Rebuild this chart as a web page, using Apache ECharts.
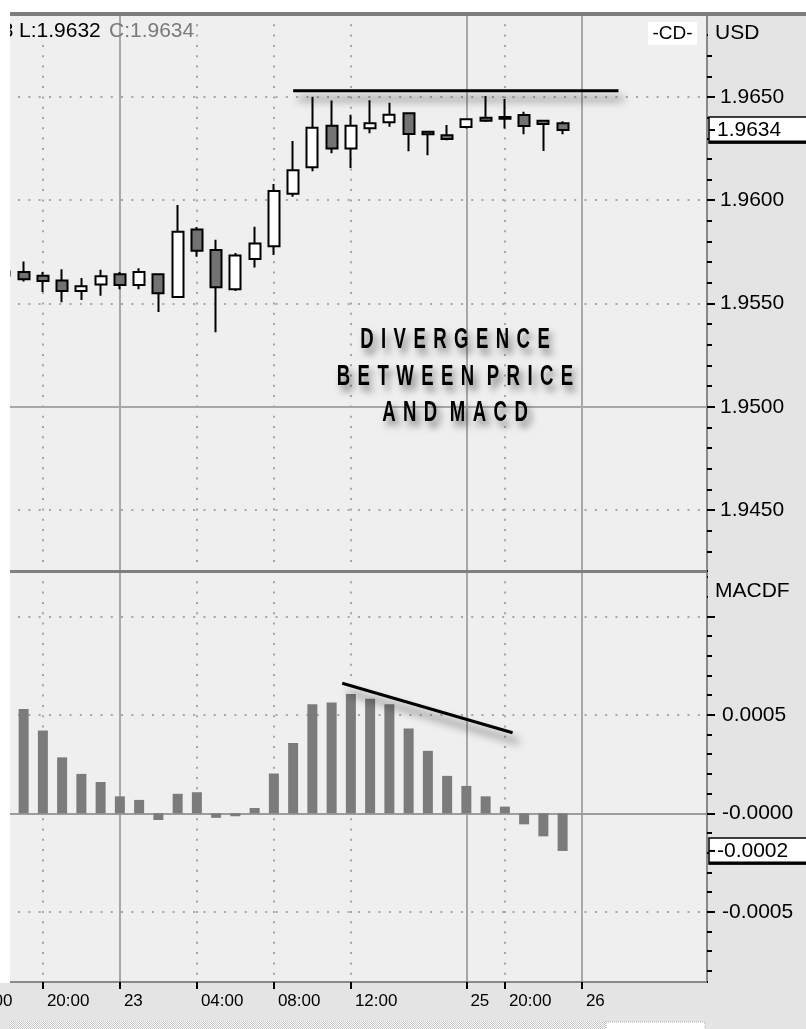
<!DOCTYPE html>
<html>
<head>
<meta charset="utf-8">
<script src="https://cdn.jsdelivr.net/npm/echarts@6/dist/echarts.min.js"></script>
<style>
  html, body { margin: 0; padding: 0; background: #ffffff; }
  #chart { width: 806px; height: 1029px; }
</style>
</head>
<body>
<div id="chart"></div>
<script>
// Hourly slots, 22nd 16:00 .. 26th 06:00 (no trading between 23rd 17:00 and 25th 18:00)
const times = [
  '22 16:00', '22 17:00', '22 18:00', '22 19:00', '22 20:00', '22 21:00', '22 22:00', '22 23:00',
  '23 00:00', '23 01:00', '23 02:00', '23 03:00', '23 04:00', '23 05:00', '23 06:00', '23 07:00',
  '23 08:00', '23 09:00', '23 10:00', '23 11:00', '23 12:00', '23 13:00', '23 14:00', '23 15:00',
  '23 16:00', '23 17:00',
  '25 18:00', '25 19:00', '25 20:00', '25 21:00', '25 22:00', '25 23:00',
  '26 00:00', '26 01:00', '26 02:00', '26 03:00', '26 04:00', '26 05:00', '26 06:00'
];

// Time axis tick labels
const tickAt   = ['22 16:00', '22 20:00', '23 00:00', '23 04:00', '23 08:00', '23 12:00', '25 18:00', '25 20:00', '26 00:00'];
const tickText = ['16:00', '20:00', '23', '04:00', '08:00', '12:00', '25', '20:00', '26'];
const dayStart = ['23 00:00', '25 18:00', '26 00:00'];

// GBP/USD hourly bars, first bar at '22 18:00'
const firstBar = '22 18:00';
const open  = [1.95655, 1.95653, 1.95634, 1.95611, 1.95560, 1.95592, 1.95642, 1.95589, 1.95642, 1.95531,
               1.95858, 1.95759, 1.95569, 1.95716, 1.95777, 1.96031, 1.96160, 1.96361, 1.96250, 1.96349,
               1.96378, 1.96421, 1.96332, 1.96315, 1.96355, 1.96400, 1.96403, 1.96413, 1.96385, 1.96373];
const close = [1.95635, 1.95618, 1.95609, 1.95560, 1.95584, 1.95632, 1.95590, 1.95652, 1.95550, 1.95848,
               1.95756, 1.95579, 1.95732, 1.95790, 1.96045, 1.96145, 1.96351, 1.96250, 1.96361, 1.96373,
               1.96414, 1.96321, 1.96319, 1.96297, 1.96392, 1.96385, 1.96395, 1.96360, 1.96369, 1.96340];
const low   = [1.95620, 1.95606, 1.95556, 1.95506, 1.95517, 1.95537, 1.95569, 1.95569, 1.95459, 1.95531,
               1.95726, 1.95361, 1.95560, 1.95674, 1.95735, 1.96017, 1.96140, 1.96228, 1.96156, 1.96324,
               1.96356, 1.96237, 1.96218, 1.96290, 1.96347, 1.96379, 1.96347, 1.96319, 1.96239, 1.96320];
const high  = [1.95670, 1.95703, 1.95652, 1.95666, 1.95624, 1.95664, 1.95653, 1.95671, 1.95642, 1.95977,
               1.95871, 1.95809, 1.95744, 1.95872, 1.96079, 1.96287, 1.96501, 1.96483, 1.96414, 1.96484,
               1.96472, 1.96421, 1.96332, 1.96364, 1.96392, 1.96505, 1.96490, 1.96429, 1.96385, 1.96382];

// MACD histogram (MACDF), same bars
const macd = [0.000600, 0.000530, 0.000420, 0.000284, 0.000200, 0.000159, 0.000086, 0.000068, -0.000034, 0.000099,
              0.000107, -0.000023, -0.000015, 0.000027, 0.000202, 0.000357, 0.000553, 0.000563, 0.000606, 0.000582,
              0.000553, 0.000430, 0.000317, 0.000190, 0.000139, 0.000086, 0.000034, -0.000056, -0.000117, -0.000191];

// Hand-drawn trend lines, x in slot-index units (0 = first time slot)
const priceTrendX = [17, 33.9];
const priceTrendY = [1.96530, 1.96530];
const macdTrendX  = [19.55, 28.4];
const macdTrendY  = [0.000660, 0.000409];

const noteLines = ['DIVERGENCE', 'BETWEEN PRICE', 'AND MACD'];

// ---------------------------------------------------------------------------
const FONT = "'Liberation Sans', Arial, Helvetica, sans-serif";
const AXIS_BG = '#e4e4e4';

const lead = times.indexOf(firstBar);
const pad = (arr) => {
  const out = times.map(() => '-');
  arr.forEach((v, i) => { out[lead + i] = v; });
  return out;
};
const candleData = pad(open.map((o, i) => [o, close[i], low[i], high[i]]));
const macdData = pad(macd);

const isTick = (i) => tickAt.includes(times[i]);
const isDay  = (i) => dayStart.includes(times[i]);
const isHour = (i) => isTick(i) && !isDay(i);

const dotted = { color: '#a6a6a6', width: 2, type: [2, 8.3] };
const solid  = { color: '#a8a8a8', width: 2, type: 'solid' };

const gridBase = { left: -43.75, right: 99, show: true, backgroundColor: '#efefef', borderWidth: 0, outerBoundsMode: 'none', containLabel: false };

function catAxis(gridIndex, splitFn, style, extra) {
  return Object.assign({
    type: 'category', gridIndex, data: times, boundaryGap: true, position: 'bottom',
    axisLine: { show: false, onZero: false }, axisTick: { show: false }, axisLabel: { show: false },
    splitLine: { show: true, interval: (i) => splitFn(i), alignWithLabel: true, lineStyle: style }
  }, extra || {});
}

const valueX = (gridIndex) => ({
  type: 'value', gridIndex, min: -0.5, max: times.length - 0.5, show: false,
  axisLine: { onZero: false }, splitLine: { show: false }
});

const trendStyle = (dx, dy) => ({
  color: '#000', width: 3, shadowColor: 'rgba(0,0,0,0.6)', shadowBlur: 9, shadowOffsetX: dx, shadowOffsetY: dy
});

const option = {
  animation: false,
  backgroundColor: AXIS_BG,
  grid: [
    Object.assign({ top: 14, height: 557 }, gridBase),
    Object.assign({ top: 571, height: 411 }, gridBase)
  ],
  xAxis: [
    catAxis(0, isHour, dotted, { axisLine: { show: true, onZero: false, lineStyle: { color: '#808080', width: 3 } } }),
    catAxis(0, isDay, solid),
    valueX(0),
    catAxis(1, isHour, dotted, {
      axisLine: { show: true, onZero: false, lineStyle: { color: '#8a8a8a', width: 2 } },
      axisTick: { show: true, alignWithLabel: true, interval: (i) => isTick(i), length: 7, lineStyle: { color: '#000', width: 2 } },
      axisLabel: {
        show: true, interval: (i) => isTick(i), align: 'left', verticalAlign: 'top', margin: 11,
        padding: [0, 0, 0, 4], color: '#000', fontSize: 17, fontFamily: FONT,
        formatter: (v) => tickText[tickAt.indexOf(v)]
      }
    }),
    catAxis(1, isDay, solid),
    valueX(1)
  ],
  yAxis: [
    {
      type: 'value', gridIndex: 0, position: 'right', min: 1.942046, max: 1.969019, splitNumber: 5,
      axisLine: { show: true, onZero: false, lineStyle: { color: '#8a8a8a', width: 2 } },
      axisTick: { show: true, length: 8, lineStyle: { color: '#000', width: 2 } },
      minorTick: { show: true, splitNumber: 5, length: 5, lineStyle: { color: '#000', width: 2 } },
      axisLabel: {
        color: '#000', fontSize: 21, fontFamily: FONT, margin: 13,
        showMinLabel: false, showMaxLabel: false, formatter: (v) => v.toFixed(4)
      },
      splitLine: { show: true, showMinLine: false, showMaxLine: false, lineStyle: dotted }
    },
    {
      type: 'value', gridIndex: 1, position: 'right', min: -0.0008563, max: 0.0012299, splitNumber: 4,
      axisLine: { show: true, onZero: false, lineStyle: { color: '#8a8a8a', width: 2 } },
      axisTick: { show: true, length: 8, lineStyle: { color: '#000', width: 2 } },
      minorTick: { show: true, splitNumber: 5, length: 5, lineStyle: { color: '#000', width: 2 } },
      axisLabel: {
        color: '#000', fontSize: 21, fontFamily: FONT, margin: 15,
        showMinLabel: false, showMaxLabel: false,
        formatter: (v) => {
          if (v > 0.00099) return '';           // top tick sits under the pane title
          let s = v.toFixed(4);
          if (v <= 0 && s[0] !== '-') s = '-' + s;
          return s;
        }
      },
      splitLine: { show: true, showMinLine: false, showMaxLine: false, lineStyle: dotted }
    }
  ],
  series: [
    {
      type: 'candlestick', name: 'GBP/USD', xAxisIndex: 0, yAxisIndex: 0, data: candleData,
      barWidth: 11.5,
      itemStyle: { color: '#ffffff', color0: '#737373', borderColor: '#000', borderColor0: '#000', borderWidth: 2 },
      markLine: {
        silent: true, symbol: 'none', z: 1, label: { show: false },
        lineStyle: { color: '#a8a8a8', width: 2, type: 'solid' },
        data: [{ yAxis: 1.95 }]
      }
    },
    {
      type: 'bar', name: 'MACDF', xAxisIndex: 3, yAxisIndex: 1, data: macdData, barWidth: 10,
      itemStyle: { color: '#7b7b7b' },
      markLine: {
        silent: true, symbol: 'none', z: 1, label: { show: false },
        lineStyle: { color: '#9c9c9c', width: 2, type: 'solid' },
        data: [{ yAxis: 0 }]
      }
    },
    {
      type: 'line', xAxisIndex: 2, yAxisIndex: 0, silent: true, symbol: 'none', z: 6,
      data: priceTrendX.map((x, i) => [x, priceTrendY[i]]),
      lineStyle: trendStyle(5, 8)
    },
    {
      type: 'line', xAxisIndex: 5, yAxisIndex: 1, silent: true, symbol: 'none', z: 6,
      data: macdTrendX.map((x, i) => [x, macdTrendY[i]]),
      lineStyle: trendStyle(6, 9)
    }
  ]
};

const chart = echarts.init(document.getElementById('chart'), null, { renderer: 'canvas' });
chart.setOption(option);

// ---- overlays: frame, header, value boxes, annotation --------------------
const last = close.length - 1;
const yClose = chart.convertToPixel({ yAxisIndex: 0 }, close[last]);
const yMacd  = chart.convertToPixel({ yAxisIndex: 1 }, macd[last]);

const pat = document.createElement('canvas');
pat.width = 2; pat.height = 2;
const pg = pat.getContext('2d');
pg.fillStyle = '#ffffff'; pg.fillRect(0, 0, 2, 2);
pg.fillStyle = '#c4c4c4'; pg.fillRect(0, 0, 1, 1); pg.fillRect(1, 1, 1, 1);

const txt = (x, y, text, font, fill, align, z) => ({
  type: 'text', x, y, z: z || 70, silent: true,
  style: { text, font, fill: fill || '#000', textAlign: align || 'left', textVerticalAlign: 'middle' }
});

// plain axis-coloured patch (keeps the scale free of ticks behind the pane titles / corners)
const patch = (y, h) => ({ type: 'rect', z: 65, silent: true, shape: { x: 708, y, width: 10, height: h }, style: { fill: AXIS_BG } });

function valueBox(yc, label) {
  return [
    { type: 'rect', z: 80, silent: true, shape: { x: 709, y: yc - 13, width: 100, height: 26 },
      style: { fill: '#ffffff', stroke: '#000', lineWidth: 1.5 } },
    { type: 'line', z: 81, silent: true, shape: { x1: 709, y1: yc + 12, x2: 806, y2: yc + 12 },
      style: { stroke: '#000', lineWidth: 3 } },
    { type: 'line', z: 81, silent: true, shape: { x1: 709, y1: yc, x2: 715, y2: yc },
      style: { stroke: '#000', lineWidth: 2 } },
    txt(717, yc, label, '21px ' + FONT, '#000', 'left', 82)
  ];
}

const spaced = (s) => s.split(' ').map((w) => w.split('').join('\u2009\u2009')).join('\u2009\u2009 ');
const noteY = [340, 377, 413];

const elements = [
  // page frame
  { type: 'rect', z: 90, silent: true, shape: { x: 0, y: 0, width: 806, height: 12 }, style: { fill: '#ffffff' } },
  { type: 'rect', z: 91, silent: true, shape: { x: 10, y: 12, width: 796, height: 4 }, style: { fill: '#7d7d7d' } },
  { type: 'rect', z: 90, silent: true, shape: { x: 0, y: 0, width: 10, height: 983 }, style: { fill: '#ffffff' } },
  patch(16, 30), patch(566, 42), patch(976, 14),
  // scroll strip under the time axis
  { type: 'rect', z: 90, silent: true, shape: { x: 10, y: 1021, width: 596, height: 8 }, style: { fill: { image: pat, repeat: 'repeat' } } },
  { type: 'rect', z: 90, silent: true, shape: { x: 606, y: 1022, width: 99, height: 8 },
    style: { fill: '#ffffff', stroke: '#b0b0b0', lineWidth: 1, lineDash: [1, 1] } },
  // header: last bar values
  txt(13.5, 31.5, 'H:' + high[last].toFixed(4), '21px ' + FONT, '#000', 'right', 70),
  txt(19, 31.5, 'L:' + low[last].toFixed(4), '21px ' + FONT, '#000', 'left', 70),
  txt(109, 31.5, 'C:' + close[last].toFixed(4), '21px ' + FONT, '#7a7a7a', 'left', 70),
  // connection icon
  { type: 'rect', z: 70, silent: true, shape: { x: 648, y: 22, width: 49, height: 23 }, style: { fill: '#ffffff' } },
  txt(672.5, 33.5, '-CD-', '19px ' + FONT, '#000', 'center', 71),
  // axis titles
  txt(715, 33, 'USD', '21px ' + FONT, '#000', 'left', 70),
  txt(715, 591, 'MACDF', '21px ' + FONT, '#000', 'left', 70)
].concat(valueBox(yClose, close[last].toFixed(4)), valueBox(yMacd, macd[last].toFixed(4)));

noteLines.forEach((line, i) => {
  elements.push({
    type: 'text', x: 455, y: noteY[i], scaleX: 0.64, z: 75, silent: true,
    style: {
      text: spaced(line), font: 'bold 29px ' + FONT, fill: '#000',
      textAlign: 'center', textVerticalAlign: 'middle',
      textShadowColor: 'rgba(0,0,0,0.5)', textShadowBlur: 7, textShadowOffsetX: 4, textShadowOffsetY: 6
    }
  });
});

chart.setOption({ graphic: { elements } });
</script>
</body>
</html>
